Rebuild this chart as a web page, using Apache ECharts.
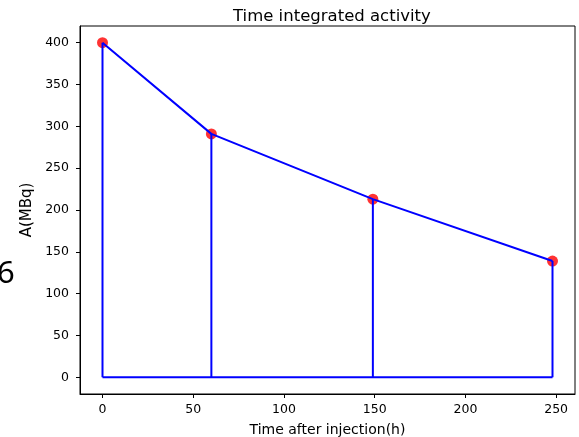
<!DOCTYPE html>
<html>
<head>
<meta charset="utf-8">
<script src="https://cdn.jsdelivr.net/npm/echarts@6/dist/echarts.min.js"></script>
<style>
  html, body { margin: 0; padding: 0; background: #fff; }
  #chart { width: 579px; height: 437px; }
</style>
</head>
<body>
<div id="chart"></div>
<script>
  // 数据
  const times = [0, 60, 149, 248]; // h
  const activity = [400, 291, 213, 139]; // MBq
  const xTicks = [0, 50, 100, 150, 200, 250];
  const yTicks = [0, 50, 100, 150, 200, 250, 300, 350, 400];

  const chart = echarts.init(document.getElementById("chart"), null, { renderer: "canvas" });
  const font = "DejaVu Sans";
  const blue = "#0000ff";

  const lineStyle = { color: blue, width: 2 };
  const pts = times.map((t, i) => [t, activity[i]]);

  // 竖线（每个点落到 0）
  const stems = times.map((t, i) => ({
    type: "line",
    data: [[t, 0], [t, activity[i]]],
    symbol: "none",
    lineStyle: lineStyle,
    z: 3,
    silent: true,
  }));

  chart.setOption({
    animation: false,
    title: {
      text: "Time integrated activity",
      left: 228, top: 3,
      textStyle: { fontFamily: font, fontSize: 16.5, fontWeight: "normal", color: "#000" },
    },
    grid: {
      left: 80, top: 26, right: 4, bottom: 43,
      outerBoundsMode: "none", containLabel: false,
      show: true, borderColor: "#000", borderWidth: 1, backgroundColor: "#fff",
    },
    xAxis: {
      type: "value",
      min: -12.4, max: 260.4,
      name: "Time after injection(h)",
      nameLocation: "middle", nameGap: 29,
      nameTextStyle: { fontFamily: font, fontSize: 14, color: "#000" },
      axisLine: { show: true, onZero: false, lineStyle: { color: "#000" } },
      axisTick: { show: true, length: 4, customValues: xTicks, lineStyle: { color: "#000" } },
      axisLabel: { customValues: xTicks, margin: 9, fontFamily: font, fontSize: 12.5, color: "#000" },
      splitLine: { show: false },
    },
    yAxis: {
      type: "value",
      min: -20, max: 420,
      name: "A(MBq)",
      nameLocation: "middle", nameRotate: 90, nameGap: 45,
      nameTextStyle: { fontFamily: font, fontSize: 15, color: "#000" },
      axisLine: { show: true, onZero: false, lineStyle: { color: "#000" } },
      axisTick: { show: true, length: 4, customValues: yTicks, lineStyle: { color: "#000" } },
      axisLabel: { customValues: yTicks, margin: 11, fontFamily: font, fontSize: 12.5, color: "#000" },
      splitLine: { show: false },
    },
    graphic: [
      {
        type: "text", left: -3, top: 259,
        style: { text: "6", fontFamily: "Noto Sans", fontSize: 31, fill: "#000" },
      },
    ],
    series: [
      {
        type: "scatter",
        data: pts,
        symbol: "circle", symbolSize: 11,
        itemStyle: { color: "#ff0000" },
        z: 2,
      },
      {
        type: "line",
        data: pts,
        symbol: "none",
        lineStyle: lineStyle,
        z: 3,
      },
      {
        // 底线 y=0
        type: "line",
        data: [[times[0], 0], [times[times.length - 1], 0]],
        symbol: "none",
        lineStyle: lineStyle,
        z: 3,
      },
      ...stems,
    ],
  });
</script>
</body>
</html>
